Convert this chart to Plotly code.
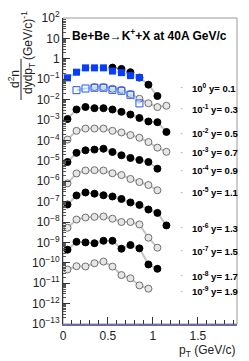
import plotly.graph_objects as go

# ---------------- data ----------------
pt_all = [0.05, 0.15, 0.25, 0.35, 0.45, 0.55, 0.65, 0.75, 0.85, 0.95, 1.05, 1.15]

# blue squares (filled: y=0.1, open: y=0.3 scaled 10^-1)
pt_blue01 = [0.05, 0.15, 0.25, 0.35, 0.45, 0.55, 0.65, 0.75, 0.85]
blue_y01 = [0.117, 0.22, 0.36, 0.36, 0.36, 0.25, 0.21, 0.15, 0.12]
pt_blue03 = [0.15, 0.25, 0.35, 0.45, 0.55, 0.65, 0.75, 0.85]
blue_y03 = [0.029, 0.035, 0.038, 0.038, 0.030, 0.027, 0.0172, 0.0065]

# circle series
pt_y01 = [0.55, 0.65, 0.75, 0.85, 0.95, 1.05]
y01 = [0.37, 0.32, 0.22, 0.12, 0.054, 0.015]
pt_y03 = [0.35, 0.45, 0.55, 0.65, 0.75, 0.85, 0.95, 1.05, 1.15]
y03 = [0.0415, 0.0415, 0.034, 0.030, 0.019, 0.011, 0.0066, 0.0043, 0.0050]
y05 = [1.12e-3, 3.27e-3, 4.34e-3, 3.8e-3, 3.8e-3, 3.27e-3, 2.51e-3, 1.86e-3, 1.26e-3, 8.5e-4, 7.8e-4, 2.6e-4]
y07 = [1.1e-4, 2.95e-4, 3.8e-4, 3.8e-4, 3.8e-4, 2.95e-4, 2.45e-4, 1.82e-4, 1.35e-4, 8.3e-5, 4.4e-5, 2.75e-5]
y09 = [8.7e-6, 2.45e-5, 3.27e-5, 3.55e-5, 3.9e-5, 2.7e-5, 1.86e-5, 1.38e-5, 1.1e-5, 8.7e-6, 4.1e-6]
y11 = [7.8e-7, 2.4e-6, 3.35e-6, 3.47e-6, 3.35e-6, 2.45e-6, 2.0e-6, 1.29e-6, 9.1e-7, 6.5e-7, 3.6e-7]
y13 = [7.2e-8, 2.0e-7, 2.8e-7, 2.45e-7, 2.05e-7, 1.78e-7, 1.35e-7, 9.1e-8, 6.9e-8, 4.1e-8, 2.8e-8, 6.8e-9]
y15 = [5.2e-9, 1.32e-8, 1.66e-8, 1.78e-8, 1.86e-8, 1.45e-8, 1.0e-8, 1.0e-8, 7.6e-9, 1.7e-9, 5.5e-10]
y17 = [4.4e-10, 1.07e-9, 1.0e-9, 9.1e-10, 1.2e-9, 1.2e-9, 4.9e-10, 7.4e-10, 5.1e-10, 8.3e-11, 5.1e-11]
y19 = [4.7e-11, 6.8e-11, 6.6e-11, 9.5e-11, 1.15e-10, 6.5e-11, 2.5e-11, 1.74e-11, 7.8e-12, 5.4e-12]

legend_labels = ["10<sup>0</sup> y= 0.1", "10<sup>-1</sup> y= 0.3", "10<sup>-2</sup> y= 0.5",
                 "10<sup>-3</sup> y= 0.7", "10<sup>-4</sup> y= 0.9", "10<sup>-5</sup> y= 1.1",
                 "10<sup>-6</sup> y= 1.3", "10<sup>-7</sup> y= 1.5", "10<sup>-8</sup> y= 1.7",
                 "10<sup>-9</sup> y= 1.9"]
legend_logy = [-1.42, -2.44, -3.66, -4.59, -5.46, -6.54, -8.28, -9.40, -10.63, -11.39]

ytick_vals = [1e2, 1e1, 1e0, 1e-1, 1e-2, 1e-3, 1e-4, 1e-5, 1e-6, 1e-7, 1e-8, 1e-9, 1e-10, 1e-11, 1e-12, 1e-13]
ytick_text = ["10<sup>2</sup>", "10", "1", "10<sup>−1</sup>", "10<sup>−2</sup>", "10<sup>−3</sup>",
              "10<sup>−4</sup>", "10<sup>−5</sup>", "10<sup>−6</sup>", "10<sup>−7</sup>", "10<sup>−8</sup>",
              "10<sup>−9</sup>", "10<sup>−10</sup>", "10<sup>−11</sup>", "10<sup>−12</sup>", "10<sup>−13</sup>"]
xtick_vals = [0, 0.5, 1, 1.5]
xtick_text = ["0", "0.5", "1", "1.5"]

FONT = "Arial, Liberation Sans, sans-serif"
LINE_GRAY = "#c4c4c4"

fig = go.Figure()

def circles(x, y, filled):
    fig.add_trace(go.Scatter(
        x=x, y=y, mode="lines+markers",
        line=dict(color=LINE_GRAY, width=2),
        marker=dict(symbol="circle", size=7,
                    color="#000000" if filled else "#e6e6e6",
                    line=dict(color="#000000" if filled else "#707070", width=1)),
        showlegend=False, hoverinfo="skip"))

circles(pt_y01, y01, True)
circles(pt_y03, y03, False)
circles(pt_all[:len(y05)], y05, True)
circles(pt_all[:len(y07)], y07, False)
circles(pt_all[:len(y09)], y09, True)
circles(pt_all[:len(y11)], y11, False)
circles(pt_all[:len(y13)], y13, True)
circles(pt_all[:len(y15)], y15, False)
circles(pt_all[:len(y17)], y17, True)
circles(pt_all[:len(y19)], y19, False)

fig.add_trace(go.Scatter(
    x=pt_blue01, y=blue_y01, mode="lines+markers",
    line=dict(color="#a8e4f4", width=2),
    marker=dict(symbol="square", size=7, color="#0a3cff", line=dict(color="#0a3cff", width=0)),
    showlegend=False, hoverinfo="skip"))
fig.add_trace(go.Scatter(
    x=pt_blue03, y=blue_y03, mode="lines+markers",
    line=dict(color="#a8e4f4", width=2),
    marker=dict(symbol="square-open", size=7, color="#3050ff", line=dict(width=1)),
    showlegend=False, hoverinfo="skip"))

W, H = 249, 361
ml, mr, mt, mb = 63, 12, 18, 37
pw, ph = W - ml - mr, H - mt - mb

def px2paper(xp, yp):
    return (xp - ml) / pw, (H - mb - yp) / ph

annotations = []
for lab, ly in zip(legend_labels, legend_logy):
    annotations.append(dict(
        x=1.32, y=ly, xref="x", yref="y", xanchor="center", yanchor="middle",
        text="·", showarrow=False, font=dict(family=FONT, size=10, color="#999999")))
    annotations.append(dict(
        x=1.41, y=ly, xref="x", yref="y", xanchor="left", yanchor="middle",
        text="<b>" + lab + "</b>",
        showarrow=False, font=dict(family=FONT, size=9.5, color="#000000")))

tx, ty = px2paper(70, 35)
annotations.append(dict(
    x=tx, y=ty, xref="paper", yref="paper", xanchor="left", yanchor="middle",
    text="<b>Be+Be→K<sup>+</sup>+X at 40A GeV/c</b>",
    showarrow=False, font=dict(family=FONT, size=12, color="#000000")))

# y-axis title (fraction + units), rotated
fx, fy = px2paper(14, 79)
annotations.append(dict(x=fx, y=fy, xref="paper", yref="paper", textangle=-90,
                        xanchor="center", yanchor="middle",
                        text="d<sup>2</sup>n", showarrow=False,
                        font=dict(family=FONT, size=12, color="#222222")))
fx, fy = px2paper(29, 79)
annotations.append(dict(x=fx, y=fy, xref="paper", yref="paper", textangle=-90,
                        xanchor="center", yanchor="middle",
                        text="dydp<sub>T</sub>", showarrow=False,
                        font=dict(family=FONT, size=12, color="#222222")))
fx, fy = px2paper(27, 36)
annotations.append(dict(x=fx, y=fy, xref="paper", yref="paper", textangle=-90,
                        xanchor="center", yanchor="middle",
                        text="(GeV/c)<sup>-1</sup>", showarrow=False,
                        font=dict(family=FONT, size=12, color="#222222")))

# x-axis title
fx, fy = px2paper(237, 341)
annotations.append(dict(x=fx, y=fy, xref="paper", yref="paper", xanchor="right", yanchor="top",
                        text="p<sub>T</sub> (GeV/c)", showarrow=False,
                        font=dict(family=FONT, size=12, color="#222222")))

bx0, by0 = px2paper(21, 59)
bx1, by1 = px2paper(21, 100)
shapes = [
    dict(type="rect", xref="paper", yref="paper", x0=0, x1=1, y0=0, y1=1,
         line=dict(color="#9a9a9a", width=1), layer="below"),
    dict(type="line", xref="paper", yref="paper", x0=bx0, x1=bx1, y0=by0, y1=by1,
         line=dict(color="#222222", width=1)),
]

minor_y = [m * 10.0 ** d for d in range(-13, 2) for m in range(2, 10)]

fig.update_layout(
    width=W, height=H,
    margin=dict(l=ml, r=mr, t=mt, b=mb, pad=0, autoexpand=False),
    paper_bgcolor="white", plot_bgcolor="white",
    showlegend=False, hovermode=False,
    annotations=annotations, shapes=shapes,
    xaxis=dict(range=[0, 1.935], tickmode="array", tickvals=xtick_vals, ticktext=xtick_text,
               ticks="inside", ticklen=7, tickcolor="#333333", tickwidth=1,
               minor=dict(ticks="inside", ticklen=4, dtick=0.1, tick0=0, tickcolor="#333333"),
               showline=True, linecolor="#6a6aa8", linewidth=2,
               showgrid=False, zeroline=False, automargin=False,
               tickfont=dict(family=FONT, size=12, color="#222222")),
    yaxis=dict(type="log", range=[-13, 2], tickmode="array", tickvals=ytick_vals, ticktext=ytick_text,
               ticks="inside", ticklen=7, tickcolor="#333333", tickwidth=1,
               minor=dict(ticks="inside", ticklen=3, tickmode="array", tickvals=minor_y,
                          tickcolor="#555555"),
               showline=True, linecolor="#333333", linewidth=1,
               showgrid=False, zeroline=False, automargin=False,
               tickfont=dict(family=FONT, size=12, color="#222222")),
)

fig.write_html("out.html", config={"displayModeBar": False, "staticPlot": True},
               post_script="document.body.style.margin='0';document.body.style.padding='0';")
